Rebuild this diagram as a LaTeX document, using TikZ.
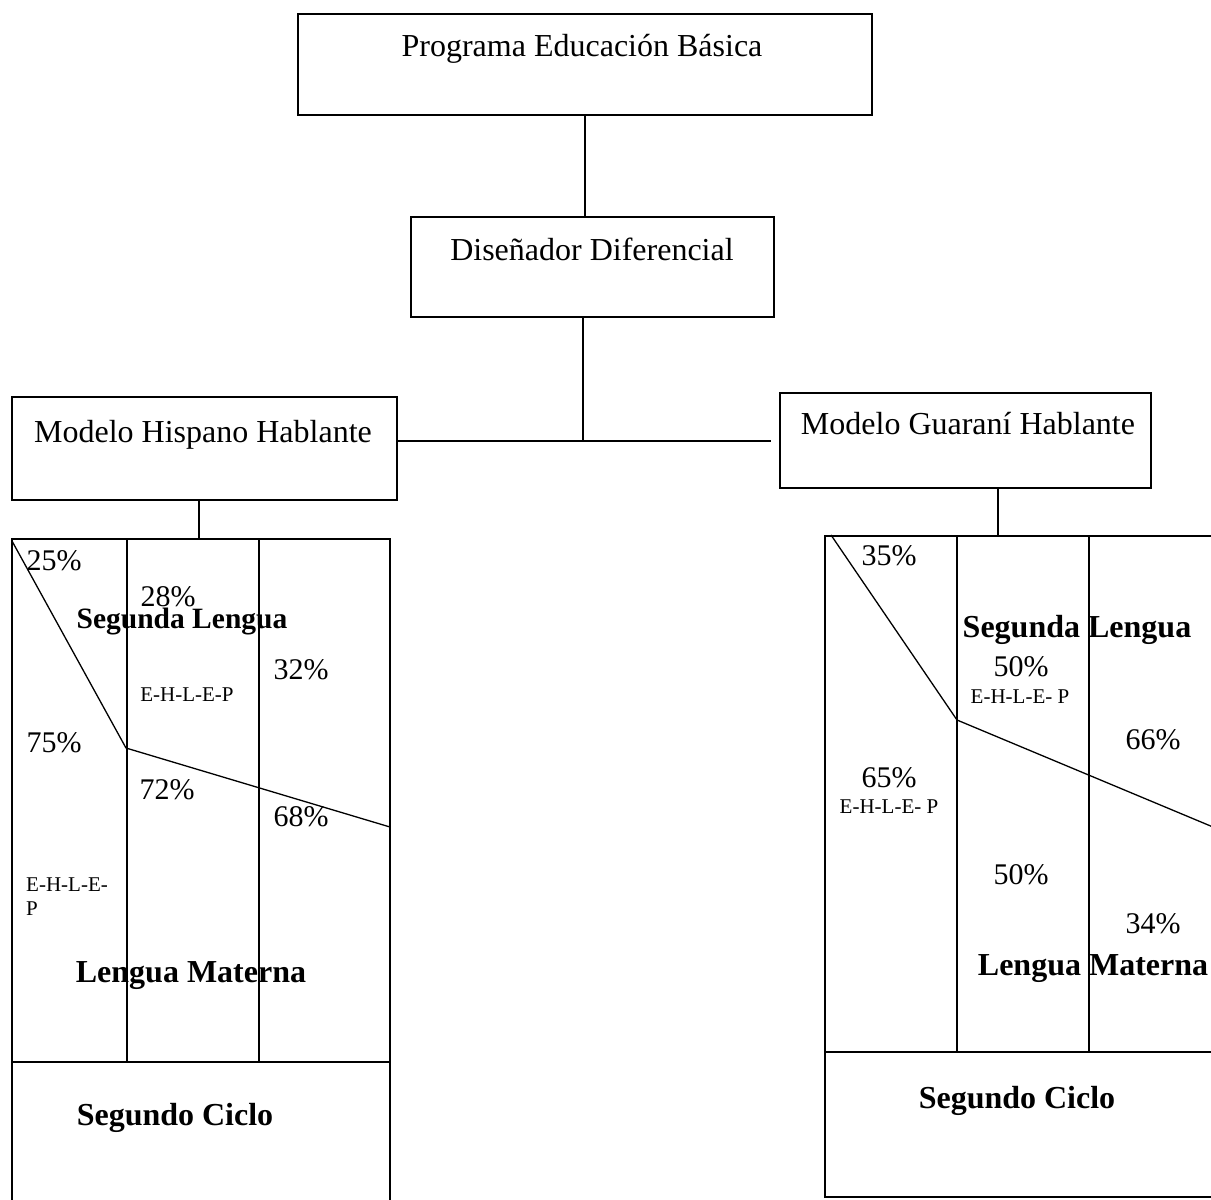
\documentclass[tikz,border=0pt]{standalone}
\usepackage{fontspec}
\setmainfont{Liberation Serif}
\usetikzlibrary{calc}
\begin{document}
\begin{tikzpicture}[x=1pt,y=-1pt,
 box/.style={draw, line width=2.6pt, inner sep=0pt},
 conn/.style={line width=1.3pt},
 gridline/.style={line width=2.3pt},
 diag/.style={line width=1.3pt},
 big/.style={font=\fontsize{32}{38}\selectfont, anchor=base, inner sep=0pt},
 pct/.style={font=\fontsize{30}{36}\selectfont, anchor=base, inner sep=0pt},
 bld/.style={font=\fontsize{32}{38}\selectfont\bfseries, anchor=base, inner sep=0pt},
 sml/.style={font=\fontsize{21}{24}\selectfont, anchor=base, inner sep=0pt}]
\useasboundingbox (0,0) rectangle (1211,1200);

% boxes
\node[box, minimum width=574pt, minimum height=101pt] (prog) at (585,64.5) {};
\node[box, minimum width=363pt, minimum height=100pt] (dis) at (592.5,267) {};
\node[box, minimum width=385pt, minimum height=103pt] (hisp) at (204.5,448.5) {};
\node[box, minimum width=371pt, minimum height=95pt] (gua) at (965.5,440.5) {};

\node[big] (progt) at (582,56) {Programa Educación Básica};
\node[big] (dist) at (592,260) {Diseñador Diferencial};
\node[big] (hispt) at (203,442) {Modelo Hispano Hablante};
\node[big] (guat) at (968,434) {Modelo Guaraní Hablante};

% connectors
\coordinate (j) at (583,441);
\coordinate (lg) at (199,539);
\coordinate (rg) at (998,535);
\draw[conn] (prog.south) -- (prog.south |- dis.north);
\draw[conn] (dis.south -| j) -- (j);
\draw[conn] (hisp.east |- j) -- ($(gua.west |- j)+(-8,0)$);
\draw[conn] (hisp.south -| lg) -- (lg);
\draw[conn] (gua.south -| rg) -- (rg);

% left grid
\draw[gridline] (12,1202) -- (12,539) -- (390,539) -- (390,1202);
\draw[gridline] (127,539) -- (127,1062);
\draw[gridline] (259,539) -- (259,1062);
\draw[gridline] (12,1062) -- (390,1062);
\draw[diag] (12,541) -- (126,748) -- (390,827);

\node[pct] at (54,570) {25\%};
\node[pct] at (168,606) {28\%};
\node[bld, font=\fontsize{29.5}{35}\selectfont\bfseries] at (182,628) {Segunda Lengua};
\node[pct] at (301,679) {32\%};
\node[sml] at (187,701) {E-H-L-E-P};
\node[pct] at (54,752) {75\%};
\node[pct] at (167,799) {72\%};
\node[pct] at (301,826) {68\%};
\node[sml, anchor=base west] at (26,891) {E-H-L-E-};
\node[sml, anchor=base west] at (26,915) {P};
\node[bld] at (191,982) {Lengua Materna};
\node[bld] at (175,1125) {Segundo Ciclo};

% right grid
\draw[gridline] (1213,536) -- (825,536) -- (825,1197) -- (1213,1197);
\draw[gridline] (957,536) -- (957,1052);
\draw[gridline] (1089,536) -- (1089,1052);
\draw[gridline] (825,1052) -- (1213,1052);
\draw[diag] (831,535) -- (957,720) -- (1213,827);

\node[pct] at (889,565) {35\%};
\node[bld] at (1077,637) {Segunda Lengua};
\node[pct] at (1021,676) {50\%};
\node[sml] at (1020,703) {E-H-L-E- P};
\node[pct] at (1153,749) {66\%};
\node[pct] at (889,787) {65\%};
\node[sml] at (889,813) {E-H-L-E- P};
\node[pct] at (1021,884) {50\%};
\node[pct] at (1153,933) {34\%};
\node[bld] at (1093,975) {Lengua Materna};
\node[bld] at (1017,1108) {Segundo Ciclo};
\end{tikzpicture}
\end{document}
